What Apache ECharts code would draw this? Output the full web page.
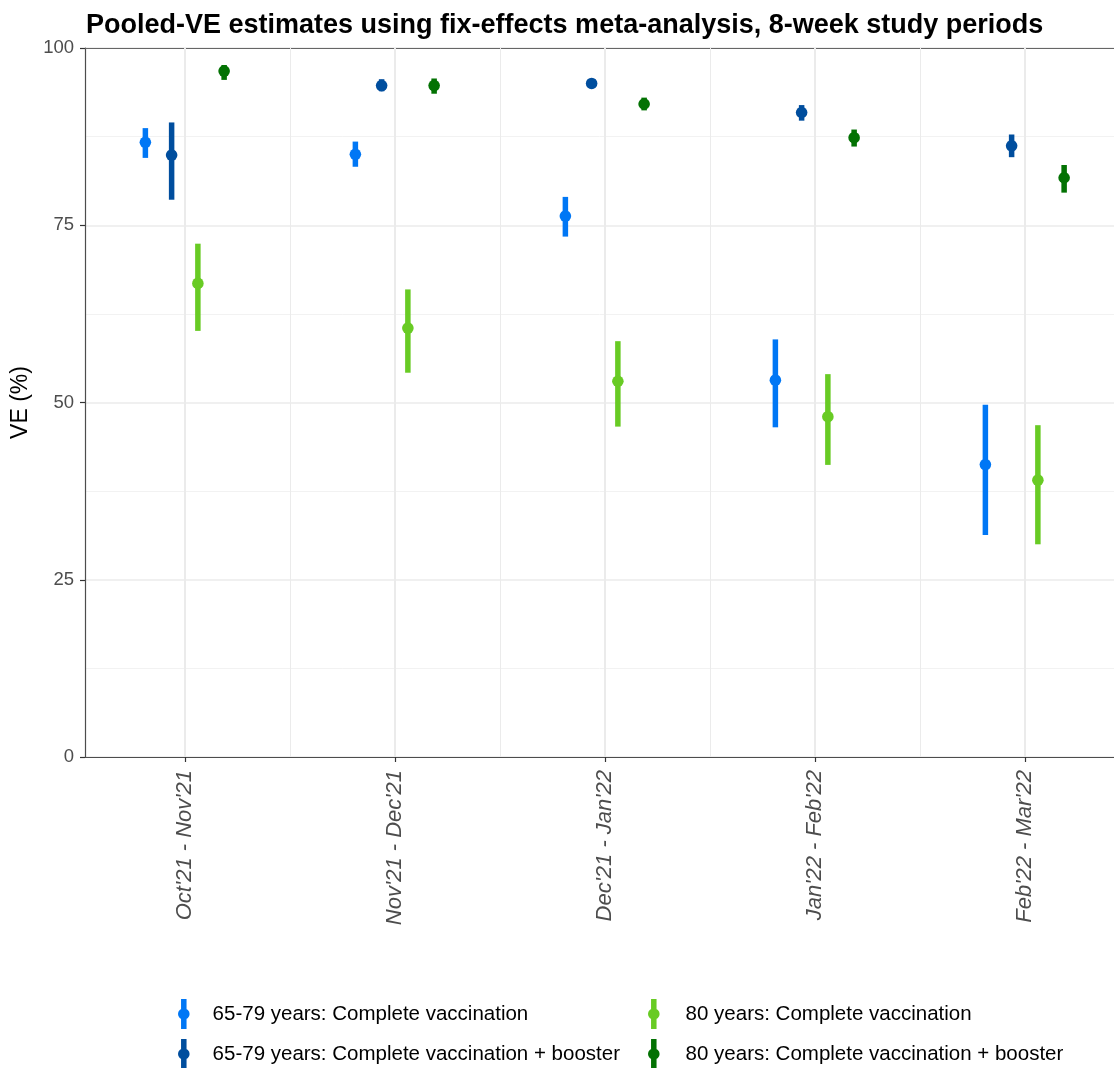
<!DOCTYPE html>
<html>
<head>
<meta charset="utf-8">
<script src="https://cdn.jsdelivr.net/npm/echarts@6/dist/echarts.min.js"></script>
<style>
html,body{margin:0;padding:0;background:#fff;}
#chart{width:1114px;height:1068px;}
</style>
</head>
<body>
<div id="chart"></div>
<script>
const periods = ["Oct'21 - Nov'21", "Nov'21 - Dec'21", "Dec'21 - Jan'22", "Jan'22 - Feb'22", "Feb'22 - Mar'22"];
const yTicks = [0, 25, 50, 75, 100];

const groupNames = [
  "65-79 years: Complete vaccination",
  "65-79 years: Complete vaccination + booster",
  "80 years: Complete vaccination",
  "80 years: Complete vaccination + booster"
];

const c6579Est = [86.7, 85.0, 76.3, 53.15, 41.25];
const c6579Lo  = [84.5, 83.25, 73.4, 46.5, 31.3];
const c6579Hi  = [88.7, 86.8, 79.0, 58.9, 49.7];

const b6579Est = [84.9, 94.7, 95.0, 90.9, 86.2];
const b6579Lo  = [78.6, 93.9, 94.4, 89.75, 84.6];
const b6579Hi  = [89.5, 95.6, 95.6, 91.95, 87.8];

const c80Est = [66.8, 60.5, 53.0, 48.0, 39.05];
const c80Lo  = [60.1, 54.2, 46.6, 41.2, 30.0];
const c80Hi  = [72.4, 65.95, 58.65, 54.0, 46.8];

const b80Est = [96.75, 94.7, 92.1, 87.35, 81.7];
const b80Lo  = [95.5, 93.55, 91.2, 86.1, 79.6];
const b80Hi  = [97.6, 95.7, 93.0, 88.5, 83.5];

const colors = ['#0077F5', '#004E9E', '#68CB24', '#037203'];

const groups = [
  [c6579Est, c6579Lo, c6579Hi],
  [b6579Est, b6579Lo, b6579Hi],
  [c80Est, c80Lo, c80Hi],
  [b80Est, b80Lo, b80Hi]
];

// ggplot-like dodge: width 0.5 shared by 4 groups
const dodgeWidth = 0.5;
const nG = groups.length;
function dodgeOffset(g) { return -dodgeWidth / 2 + dodgeWidth / nG * (g + 0.5); }

const FONT = '"Liberation Sans", Arial, sans-serif';

const chart = echarts.init(document.getElementById('chart'), null, {renderer: 'canvas'});

const series = groups.map((arr, g) => ({
  name: groupNames[g],
  type: 'custom',
  z: 3,
  itemStyle: {color: colors[g]},
  data: periods.map((p, i) => [i + 1 + dodgeOffset(g), arr[0][i], arr[1][i], arr[2][i]]),
  encode: {x: 0, y: 1},
  renderItem: function (params, api) {
    const x = api.value(0);
    const pE = api.coord([x, api.value(1)]);
    const pL = api.coord([x, api.value(2)]);
    const pH = api.coord([x, api.value(3)]);
    const col = colors[g];
    return {
      type: 'group',
      children: [
        {type: 'line', shape: {x1: pH[0], y1: pH[1], x2: pL[0], y2: pL[1]}, style: {stroke: col, lineWidth: 5.5, lineCap: 'butt'}},
        {type: 'circle', shape: {cx: pE[0], cy: pE[1], r: 5.8}, style: {fill: col}}
      ]
    };
  }
}));

// vertical grid lines (major at categories, minor halfway)
const majorX = periods.map((p, i) => i + 1);
const minorX = periods.slice(1).map((p, i) => i + 1.5);
series.unshift({
  type: 'line',
  data: [],
  z: 1,
  silent: true,
  markLine: {
    silent: true,
    symbol: ['none', 'none'],
    label: {show: false},
    animation: false,
    data: majorX.map(v => ({xAxis: v, lineStyle: {color: '#EBEBEB', width: 2, type: 'solid'}}))
      .concat(minorX.map(v => ({xAxis: v, lineStyle: {color: '#EBEBEB', width: 1, type: 'solid'}})))
  }
});

const legendIcon = 'path://M-2.75,-15 L2.75,-15 L2.75,15 L-2.75,15 Z M-5.8,0 A5.8,5.8 0 1,1 5.8,0 A5.8,5.8 0 1,1 -5.8,0 Z';

const legendBase = {
  orient: 'vertical',
  top: 999,
  height: 120,
  padding: 0,
  itemWidth: 11.6,
  itemHeight: 30,
  itemGap: 10,
  icon: legendIcon,
  selectedMode: false
};

const option = {
  animation: false,
  backgroundColor: '#ffffff',
  title: {
    text: 'Pooled-VE estimates using fix-effects meta-analysis, 8-week study periods',
    left: 81,
    top: 7,
    textStyle: {fontFamily: FONT, fontSize: 27, fontWeight: 'bold', color: '#000'}
  },
  legend: [
    Object.assign({}, legendBase, {
      data: groupNames.slice(0, 2),
      left: 178,
      textStyle: {fontFamily: FONT, fontSize: 20.5, color: '#000', padding: [0, 0, 0, 18]}
    }),
    Object.assign({}, legendBase, {
      data: groupNames.slice(2, 4),
      left: 648,
      textStyle: {fontFamily: FONT, fontSize: 20.5, color: '#000', padding: [0, 0, 0, 21]}
    })
  ],
  grid: {left: 85, right: 0, top: 48, bottom: 311, containLabel: false},
  xAxis: [
    {
      type: 'value',
      min: 0.525,
      max: 0.525 + 1029 / 210,
      axisLine: {show: true, onZero: false, lineStyle: {color: '#4d4d4d', width: 1.2}},
      axisTick: {show: true, length: 5, customValues: majorX, lineStyle: {color: '#333', width: 1.2}},
      axisLabel: {
        show: true,
        customValues: majorX,
        rotate: 90,
        margin: 13,
        fontFamily: FONT,
        fontSize: 22,
        fontStyle: 'italic',
        color: '#4D4D4D',
        formatter: v => periods[Math.round(v) - 1] || ''
      },
      splitLine: {show: false}
    },
    {
      type: 'value',
      position: 'top',
      min: 0,
      max: 1,
      axisLine: {show: true, onZero: false, lineStyle: {color: '#666', width: 1.2}},
      axisTick: {show: false},
      axisLabel: {show: false},
      splitLine: {show: false}
    }
  ],
  yAxis: {
    type: 'value',
    min: 0,
    max: 100,
    interval: 25,
    name: 'VE (%)',
    nameLocation: 'middle',
    nameRotate: 90,
    nameGap: 50,
    nameTextStyle: {fontFamily: FONT, fontSize: 23, color: '#000'},
    axisLine: {show: true, lineStyle: {color: '#4d4d4d', width: 1.2}},
    axisTick: {show: true, length: 5, lineStyle: {color: '#333', width: 1.2}},
    axisLabel: {
      fontFamily: FONT, fontSize: 18.5, color: '#4D4D4D', margin: 11,
      formatter: v => (yTicks.indexOf(v) >= 0 ? String(v) : '')
    },
    splitLine: {show: true, lineStyle: {color: '#EBEBEB', width: 1.5}},
    minorTick: {show: false, splitNumber: 2},
    minorSplitLine: {show: true, lineStyle: {color: '#F2F2F2', width: 1}}
  },
  series: series
};

chart.setOption(option);
</script>
</body>
</html>
